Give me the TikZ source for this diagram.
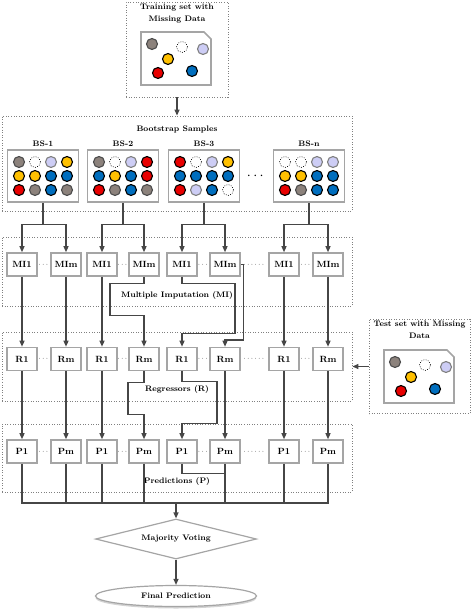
\documentclass[tikz,border=0pt]{standalone}
\usepackage{amsmath}
\usetikzlibrary{positioning, calc, shapes.geometric, arrows.meta, shadows}
\definecolor{dotgray}{RGB}{140,130,124}
\definecolor{dotlav}{RGB}{205,205,245}
\definecolor{dotyel}{RGB}{255,192,0}
\definecolor{dotred}{RGB}{232,0,0}
\definecolor{dotblue}{RGB}{0,110,190}
\definecolor{boxgray}{RGB}{165,165,165}
\definecolor{linegray}{RGB}{70,70,70}

\begin{document}
\begin{tikzpicture}[x=1pt, y=-1pt, font={\fontsize{8}{12}\selectfont\bfseries},
    frame/.style = {draw=gray, dash pattern=on 0.8pt off 1.8pt, line width=0.8pt, inner sep=0},
    box/.style = {draw=boxgray, line width=1.6pt, fill=white, minimum width=30pt, minimum height=23pt, inner sep=0,
        font={\fontsize{9}{10}\selectfont\bfseries}},
    sample/.style = {draw=boxgray, line width=1.6pt, fill=white, minimum width=71pt, minimum height=52pt},
    title/.style = {align=center, inner sep=1pt},
    arr/.style = {draw=linegray, line width=1.2pt, -{Triangle[length=6pt, width=5pt]}},
    line/.style = {draw=linegray, line width=1.2pt},
    dotc/.style = {line width=1.1pt},
    dotG/.style = {fill=dotgray, draw=gray!60!black},
    dotL/.style = {fill=dotlav, draw=gray},
    dotY/.style = {fill=dotyel, draw=black},
    dotR/.style = {fill=dotred, draw=black},
    dotB/.style = {fill=dotblue, draw=black},
    dotE/.style = {fill=white, draw=black, line width=0.6pt, dash pattern=on 0.8pt off 1.5pt},
    datadoc/.pic = {
        \draw[draw=boxgray, line width=1.6pt, fill=white] (0,0) -- (63,0) -- (70,7) -- (70,53) -- (0,53) -- cycle;
        \foreach \c/\px/\py in {G/11/12, E/41/15, L/62/17, Y/27/27, R/17/41, B/51/39}
            \draw[dotc, dot\c] (\px,\py) circle (5.5pt);
    }]
    \useasboundingbox (0,0) rectangle (474,609);

    \node[frame, minimum width=102pt, minimum height=95pt] (train) at (177,49.5) {};
    \node[frame, minimum width=350pt, minimum height=95pt] (boot) at (177,163.5) {};
    \node[frame, minimum width=350pt, minimum height=69pt] (mifr) at (177,271.5) {};
    \node[frame, minimum width=350pt, minimum height=69pt] (rfr) at (177,366.5) {};
    \node[frame, minimum width=350pt, minimum height=68pt] (pfr) at (177,458) {};
    \node[frame, minimum width=101pt, minimum height=94pt] (test) at (419.5,366.5) {};

    \node[title, below=1pt of train.north] (traint) {Training set with\\Missing Data};
    \node[title, below=9pt of boot.north] (boott) {Bootstrap Samples};
    \node[title, above=6pt of mifr.south] (mit) {Multiple Imputation (MI)};
    \node[title, above=7pt of rfr.south] (rt) {Regressors (R)};
    \node[title, above=6pt of pfr.south] (pt) {Predictions (P)};
    \node[title, below=1pt of test.north] (testt) {Test set with Missing\\Data};
    \pic at (141,32) {datadoc};
    \pic at (384,350) {datadoc};

    \foreach \k/\gx/\lab/\cols in {1/43/BS-1/{G,E,L,Y,Y,Y,B,B,R,G,B,G}, 2/123/BS-2/{G,E,L,R,B,Y,B,R,R,G,B,G},
            3/204/BS-3/{R,E,L,Y,B,B,B,B,R,L,B,E}, 4/309/BS-n/{E,E,L,L,Y,Y,B,B,R,G,B,B}} {
        \node[sample] (bs\k) at (\gx,176) {};
        \node[title, above=1pt of bs\k] (bsl\k) {\lab};
        \foreach \c [count=\i from 0] in \cols
            \draw[dotc, dot\c] ({\gx-24+16*mod(\i,4)}, {162+14*int(\i/4)}) circle (5.5pt);
    }
    \node (bsgap) at ($(bs3.east)!.5!(bs4.west)$) {\Large$\cdots$};

    \foreach \row/\yy/\lbl in {mi/264.5/MI, r/359/R, p/451.5/P} {
        \foreach \k/\xa/\xb in {1/22/66, 2/102/144, 3/182/225, 4/284/328} {
            \node[box] (\row a\k) at (\xa,\yy) {\lbl 1};
            \node[box] (\row b\k) at (\xb,\yy) {\lbl m};
            \node (\row d\k) at ($(\row a\k.east)!.5!(\row b\k.west)$) {\scriptsize$\cdots$};
        }
        \node (\row gap) at ($(\row b3.east)!.5!(\row a4.west)$) {\scriptsize$\cdots\cdots$};
    }

    \node[diamond, aspect=4, draw=boxgray, line width=1.2pt, fill=white, minimum width=161pt, minimum height=40pt, inner sep=0] (vote) at (176,539) {Majority Voting};
    \node[ellipse, draw=boxgray, line width=1.2pt, fill=white, minimum width=161pt, minimum height=21pt,
        drop shadow={shadow xshift=0pt, shadow yshift=-2pt, opacity=0.35}] (final) at (176,596) {Final Prediction};
    \coordinate (bus) at (176,503);

    \draw[arr] (train) -- (boot);
    \foreach \k in {1,...,4} {
        \draw[arr] (bs\k.south) -- ++(0,22) -| (mia\k.north);
        \draw[arr] (bs\k.south) ++(0,22) -| (mib\k.north);
    }
    \foreach \k in {1,2,4} \draw[arr] (mia\k) -- (ra\k);
    \foreach \k in {1,4} \draw[arr] (mib\k) -- (rb\k);
    \draw[arr] (mib2.south) -- ++(0,7) -- ++(-34,0) -- ++(0,32) -| (rb2.north);
    \draw[arr] (mia3.south) -- ++(0,7) -- ++(53,0) -- ++(0,50) -| (ra3.north);
    \draw[arr] (mib3.east) -- ++(3,0) -- ++(0,75.5) -| (rb3.north);
    \draw[arr] (test) -- (rfr);
    \foreach \k in {1,2,4} \draw[arr] (ra\k) -- (pa\k);
    \foreach \k in {1,3,4} \draw[arr] (rb\k) -- (pb\k);
    \draw[arr] (rb2.south) -- ++(0,11) -- ++(-16,0) -- ++(0,32) -| (pb2.north);
    \draw[arr] (ra3.south) -- ++(0,10) -- ++(35,0) -- ++(0,42) -| (pa3.north);
    \foreach \n in {pa1,pb1,pa2,pb2,pb3,pa4,pb4} \draw[line] (\n.south) |- (bus);
    \draw[line] (pa3.south) -- ++(0,10) -| (pb3.south);
    \draw[arr] (bus) -- (vote);
    \draw[arr] (vote) -- (final);
\end{tikzpicture}
\end{document}
